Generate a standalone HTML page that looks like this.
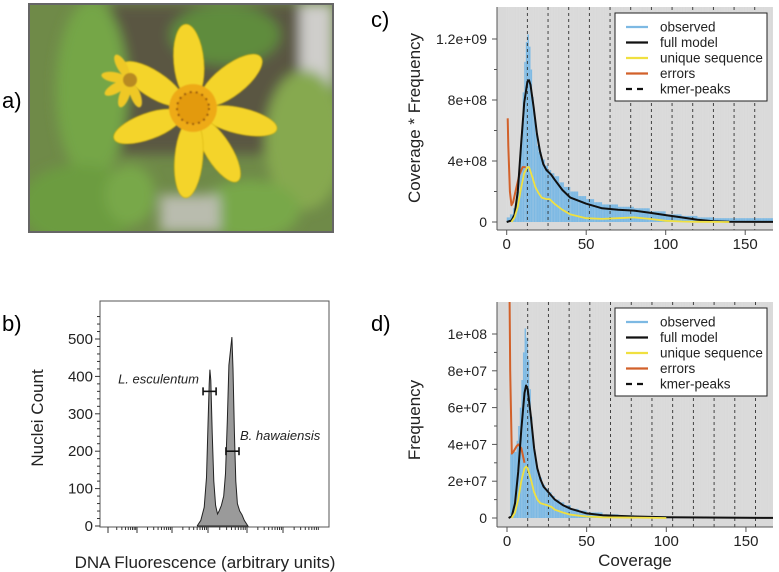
<!DOCTYPE html>
<html><head><meta charset="utf-8"><style>
body{margin:0;background:#fff;}
svg{display:block;font-family:"Liberation Sans",sans-serif;}
</style></head><body>
<svg id="fig" width="779" height="572" viewBox="0 0 779 572">
<defs>
<filter id="blur" x="-20%" y="-20%" width="140%" height="140%"><feGaussianBlur stdDeviation="6"/></filter>
<filter id="blur2"><feGaussianBlur stdDeviation="0.8"/></filter>
<clipPath id="photoclip"><rect x="29" y="4" width="304" height="228"/></clipPath>
<clipPath id="clipc"><rect x="497" y="7" width="276" height="223"/></clipPath>
<clipPath id="clipd"><rect x="497" y="302" width="276" height="225"/></clipPath>
</defs>
<text x="2" y="108" font-size="22">a)</text>
<text x="2" y="331" font-size="22">b)</text>
<text x="371" y="27" font-size="22">c)</text>
<text x="371" y="331" font-size="22">d)</text>

<g clip-path="url(#photoclip)">
<rect x="29" y="4" width="304" height="228" fill="#6f8a48"/>
<g filter="url(#blur)">
<rect x="110" y="4" width="223" height="150" fill="#5a5642"/>
<rect x="300" y="4" width="33" height="90" fill="#cfcecb"/>
<ellipse cx="92" cy="90" rx="36" ry="90" fill="#74a646"/>
<ellipse cx="225" cy="35" rx="55" ry="30" fill="#5f8c3c"/>
<ellipse cx="305" cy="140" rx="40" ry="70" fill="#86a950"/>
<ellipse cx="80" cy="205" rx="60" ry="40" fill="#6c9c40"/>
<ellipse cx="130" cy="195" rx="25" ry="30" fill="#78a848"/>
<ellipse cx="250" cy="210" rx="50" ry="30" fill="#78a848"/>
<rect x="160" y="195" width="60" height="37" fill="#b9bcae"/>
</g>
<g filter="url(#blur2)">
<g transform="translate(193,110)" fill="#f4d42a" stroke="#d6b300" stroke-width="0.6">
<ellipse cx="0" cy="-48" rx="15" ry="38" transform="rotate(-5)"/>
<ellipse cx="0" cy="-48" rx="15" ry="38" transform="rotate(52)"/>
<ellipse cx="0" cy="-48" rx="13" ry="38" transform="rotate(103)"/>
<ellipse cx="0" cy="-48" rx="13" ry="36" transform="rotate(148)"/>
<ellipse cx="0" cy="-48" rx="14" ry="40" transform="rotate(185)"/>
<ellipse cx="0" cy="-48" rx="13" ry="36" transform="rotate(250)"/>
<ellipse cx="0" cy="-48" rx="13" ry="36" transform="rotate(303)"/>
</g>
<circle cx="193" cy="108" r="24" fill="#eeaa18"/>
<circle cx="193" cy="108" r="16" fill="#e39a10" stroke="#8a4a10" stroke-width="2" stroke-dasharray="2,4"/>
</g>
<g filter="url(#blur2)">
<g transform="translate(130,80)" fill="#eec826">
<ellipse cx="0" cy="-16" rx="5" ry="13" transform="rotate(-30)"/>
<ellipse cx="0" cy="-16" rx="5" ry="13" transform="rotate(-80)"/>
<ellipse cx="0" cy="-16" rx="5" ry="13" transform="rotate(-120)"/>
<ellipse cx="0" cy="-16" rx="5" ry="13" transform="rotate(-160)"/>
<ellipse cx="0" cy="-16" rx="5" ry="13" transform="rotate(160)"/>
</g>
<circle cx="130" cy="80" r="7" fill="#b88a20"/>
</g>
</g>
<rect x="29" y="4" width="304" height="228" fill="none" stroke="#666" stroke-width="2"/>

<g id="pb"></g>
<g id="pc"></g>
<g id="pd"></g>
</svg>
<script>
// ---------- Panel b data ----------
const flowChannel=[424,440,455,465,472,477,480,484,490,497,505,513,520,530,540,548,556,563,570,576,581,587,593,600,610,620,630,646];
const flowCount=[0,15,50,130,280,380,418,390,250,120,55,32,40,55,80,140,280,430,470,505,420,250,120,60,40,30,15,0];
const flowYTicks=[0,100,200,300,400,500];
const gateLE=[450,507,360];
const gateBH=[550,607,200];

// ---------- Panel c data (units 1e8) ----------
const kmerPeaks=[13,26,39,52,65,78,91,104,117,130,143,156];
const cTicksY=[0,4,8,12];
const cTickLabelsY=["0","4e+08","8e+08","1.2e+09"];
const xTicks=[0,50,100,150];
const cObsCov=[0,2,4,6,8,9,10,11,12,13,14,15,16,17,18,19,20,22,24,26,28,30,33,36,40,45,50,55,60,70,80,90,100,110,120,130,140,150,160,175];
const cObsVal=[0.3,0.5,0.9,2,4,6,8.5,10.5,11.8,12.3,11.5,10,8.2,6.8,5.8,5,4.6,4.1,3.7,3.4,3.2,3.0,2.6,2.3,2.0,1.7,1.5,1.3,1.15,1.0,0.9,0.7,0.5,0.4,0.3,0.25,0.25,0.25,0.25,0.25];
const cFullCov=[0,3,5,7,9,11,13,14,15,17,19,21,23,25,28,30,35,40,50,60,70,80,90,100,110,120,130,140,175];
const cFullVal=[0,0.1,0.5,2,5,7.8,9.2,9.3,9,7.5,5.8,4.6,3.8,3.4,3.1,2.8,2.1,1.6,1.2,0.9,0.8,0.75,0.6,0.45,0.3,0.15,0.05,0.02,0];
const cUniqCov=[3,5,7,9,11,13,14,16,18,20,22,25,27,30,35,40,50,60,70,80,90,100,110,120,140];
const cUniqVal=[0,0.3,1,2.2,3.2,3.6,3.6,3.0,2.3,1.9,1.6,1.5,1.5,1.2,0.8,0.5,0.25,0.2,0.25,0.3,0.2,0.08,0.03,0.01,0];
const cErrCov=[0.6,1,2,3,4,6,8,10,12];
const cErrVal=[6.8,5,2,1.1,1.3,2.2,3.1,3.6,3.6];

// ---------- Panel d data (units 1e7) ----------
const dTicksY=[0,2,4,6,8,10];
const dTickLabelsY=["0","2e+07","4e+07","6e+07","8e+07","1e+08"];
const dObsCov=[2,4,6,7,8,9,10,11,12,13,14,15,16,17,18,19,20,22,24,26,28,30,33,36,40,45,50,60,70,80,100,130,175];
const dObsVal=[3.5,3.6,4.2,5,6,7.5,9,10.3,9.8,8.6,7,5.5,4.3,3.5,2.9,2.5,2.2,1.8,1.6,1.4,1.2,1.0,0.85,0.7,0.5,0.4,0.3,0.2,0.15,0.1,0.05,0.03,0.02];
const dFullCov=[1,3,5,7,9,11,12,13,15,17,19,21,23,25,28,30,35,40,50,60,80,100,175];
const dFullVal=[0,0.1,0.8,2.5,4.8,6.8,7.2,7,5.5,3.8,2.7,2.1,1.7,1.5,1.2,1.0,0.7,0.5,0.25,0.15,0.08,0.04,0];
const dUniqCov=[3,5,7,9,11,12,13,15,17,19,21,25,28,30,35,40,50,60,100];
const dUniqVal=[0,0.3,1,2,2.7,2.8,2.7,2.1,1.4,1.0,0.8,0.7,0.6,0.45,0.3,0.18,0.08,0.04,0];
const dErrCov=[1.5,2,3,4,6,7,9,11];
const dErrVal=[13,8,3.5,3.6,3.9,4.0,3.8,3.0];

const NS="http://www.w3.org/2000/svg";
function mk(parent,tag,attrs,text){const e=document.createElementNS(NS,tag);for(const k in attrs)e.setAttribute(k,attrs[k]);if(text!==undefined)e.textContent=text;parent.appendChild(e);return e;}

(function(){
const g=document.getElementById('pb');
const x=c=>100+(c/1000)*229;
const y=v=>526-v*0.374;
let d=`M${x(flowChannel[0])},${y(0)}`;
flowChannel.forEach((c,i)=>{d+=` L${x(c).toFixed(1)},${y(flowCount[i]).toFixed(1)}`;});
d+=' Z';
const area=mk(g,'path',{d,fill:'#9a9a9a',stroke:'#222','stroke-width':'1'});


const box=mk(g,'rect',{x:100,y:301,width:229,height:226,fill:'none',stroke:'#555','stroke-width':'1'});


for(let v=0;v<=560;v+=20){mk(g,'line',{x1:v%100===0?95:97,x2:100,y1:y(v),y2:y(v),stroke:'#333','stroke-width':'1'});}
flowYTicks.forEach(v=>{const t=mk(g,'text',{x:93,y:y(v)+5,'font-size':'15','text-anchor':'end',fill:'#222'},String(v));

});
const majors=[108,137,172,208,247,283,320];
for(let i=0;i<majors.length-1;i++){const a=majors[i],b=majors[i+1];
 for(let k=1;k<10;k++){const px=a+(b-a)*Math.log10(k);mk(g,'line',{x1:px,x2:px,y1:527,y2:k===1?533:530,stroke:'#333','stroke-width':'1'});}}
[[gateLE,'gate-l-esculentum'],[gateBH,'gate-b-hawaiensis']].forEach(([gt,nm])=>{
 const gg=mk(g,'g',{stroke:'#111','stroke-width':'1.6'});
 
 
 mk(gg,'line',{x1:x(gt[0]),x2:x(gt[1]),y1:y(gt[2]),y2:y(gt[2])});
 mk(gg,'line',{x1:x(gt[0]),x2:x(gt[0]),y1:y(gt[2])-4,y2:y(gt[2])+4});
 mk(gg,'line',{x1:x(gt[1]),x2:x(gt[1]),y1:y(gt[2])-4,y2:y(gt[2])+4});
});
const l1=mk(g,'text',{x:199,y:y(gateLE[2])-8,'font-size':'13','font-style':'italic','text-anchor':'end',fill:'#222'},'L. esculentum');


const l2=mk(g,'text',{x:240,y:y(gateBH[2])-11,'font-size':'13','font-style':'italic',fill:'#222'},'B. hawaiensis');


const yl=mk(g,'text',{x:0,y:0,'font-size':'17','text-anchor':'middle',transform:'translate(43,418) rotate(-90)',fill:'#222'},'Nuclei Count');


const xl=mk(g,'text',{x:205,y:568,'font-size':'17','text-anchor':'middle',fill:'#222'},'DNA Fluorescence (arbitrary units)');


})();

function genome(cfg){
const g=document.getElementById(cfg.id);
const L=497,R=773;
const x=c=>cfg.x0+c*cfg.xs;
const y=v=>cfg.y0-v*cfg.ys;
const bg=mk(g,'rect',{x:L,y:cfg.top,width:R-L,height:cfg.bot-cfg.top,fill:'#d9d9d9'});


const cg=mk(g,'g',{'clip-path':`url(#${cfg.clip})`});
for(let i=0;i<cfg.obsC.length-1;i++){
 const x1=x(cfg.obsC[i]),x2=x(cfg.obsC[i+1]);
 const yy=Math.max(y(cfg.obsV[i]),cfg.top);
 const r=mk(cg,'rect',{x:x1,y:yy,width:Math.max(x2-x1,0.5),height:cfg.y0-yy,fill:'#7db9e3'});
 
 
}
for(let c=0;c<175;c+=1){mk(cg,'line',{x1:x(c),x2:x(c),y1:cfg.top,y2:cfg.y0,stroke:'rgba(255,255,255,0.12)','stroke-width':'0.5'});}
kmerPeaks.forEach(k=>{const l=mk(cg,'line',{x1:x(k),x2:x(k),y1:cfg.top,y2:cfg.bot,stroke:'#333','stroke-width':'0.9','stroke-dasharray':'3,3'});
 
 });
const line=(cs,vs,col,w,nm)=>{const p=mk(cg,'path',{d:cs.map((c,i)=>(i?'L':'M')+x(c).toFixed(1)+','+y(vs[i]).toFixed(1)).join(' '),fill:'none',stroke:col,'stroke-width':w,'stroke-linejoin':'round'});
 
 };
line(cfg.errC,cfg.errV,'#d2612a',2,'errors-line');
line(cfg.fullC,cfg.fullV,'#111',2,'full-model-line');
line(cfg.uniqC,cfg.uniqV,'#f0e040',1.8,'unique-sequence-line');
mk(g,'line',{x1:L,x2:L,y1:cfg.top,y2:cfg.bot,stroke:'#555'});
mk(g,'line',{x1:L,x2:R,y1:cfg.bot,y2:cfg.bot,stroke:'#555'});
cfg.yT.forEach((v,i)=>{mk(g,'line',{x1:L-5,x2:L,y1:y(v),y2:y(v),stroke:'#555'});
 const t=mk(g,'text',{x:L-10,y:y(v)+5,'font-size':'14','text-anchor':'end',fill:'#222'},cfg.yL[i]);
 
 
 if(i<cfg.yT.length-1){const m=(cfg.yT[i]+cfg.yT[i+1])/2;mk(g,'line',{x1:L-3,x2:L,y1:y(m),y2:y(m),stroke:'#555'});}});
xTicks.forEach(v=>{mk(g,'line',{x1:x(v),x2:x(v),y1:cfg.bot,y2:cfg.bot+5,stroke:'#555'});
 const t=mk(g,'text',{x:x(v),y:cfg.bot+19,'font-size':'15','text-anchor':'middle',fill:'#222'},String(v));
 
 });
const lg=mk(g,'g',{});


mk(lg,'rect',{x:615,y:cfg.legY,width:152,height:88,fill:'#fff',stroke:'#222','stroke-width':'1'});
const items=[['observed','#7db9e3',''],['full model','#111',''],['unique sequence','#f0e040',''],['errors','#d2612a',''],['kmer-peaks','#111','6,5']];
items.forEach((it,i)=>{const yy=cfg.legY+14+i*15.5;
 const e=mk(lg,'g',{});
 
 
 const a={x1:626,x2:648,y1:yy,y2:yy,stroke:it[1],'stroke-width':'2.2'};if(it[2])a['stroke-dasharray']=it[2];
 mk(e,'line',a);
 mk(e,'text',{x:660,y:yy+4.5,'font-size':'13.5',fill:'#222'},it[0]);});
const yl=mk(g,'text',{x:0,y:0,'font-size':'17','text-anchor':'middle',transform:`translate(${cfg.yTitleX},${cfg.yTitleY}) rotate(-90)`,fill:'#222'},cfg.yTitle);


if(cfg.xTitle){const xl=mk(g,'text',{x:635,y:566,'font-size':'17','text-anchor':'middle',fill:'#222'},cfg.xTitle);
 
 }
}
genome({id:'pc',clip:'clipc',x0:506.7,xs:1.59,y0:222,ys:15.25,top:7,bot:230,
 obsC:cObsCov,obsV:cObsVal,fullC:cFullCov,fullV:cFullVal,uniqC:cUniqCov,uniqV:cUniqVal,errC:cErrCov,errV:cErrVal,
 yT:cTicksY,yL:cTickLabelsY,legY:13,yTitle:'Coverage * Frequency',yTitleX:420,yTitleY:118,xTitle:null});
genome({id:'pd',clip:'clipd',x0:507,xs:1.593,y0:518,ys:18.4,top:302,bot:527,
 obsC:dObsCov,obsV:dObsVal,fullC:dFullCov,fullV:dFullVal,uniqC:dUniqCov,uniqV:dUniqVal,errC:dErrCov,errV:dErrVal,
 yT:dTicksY,yL:dTickLabelsY,legY:308,yTitle:'Frequency',yTitleX:420,yTitleY:420,xTitle:'Coverage'});
</script>
</body></html>
